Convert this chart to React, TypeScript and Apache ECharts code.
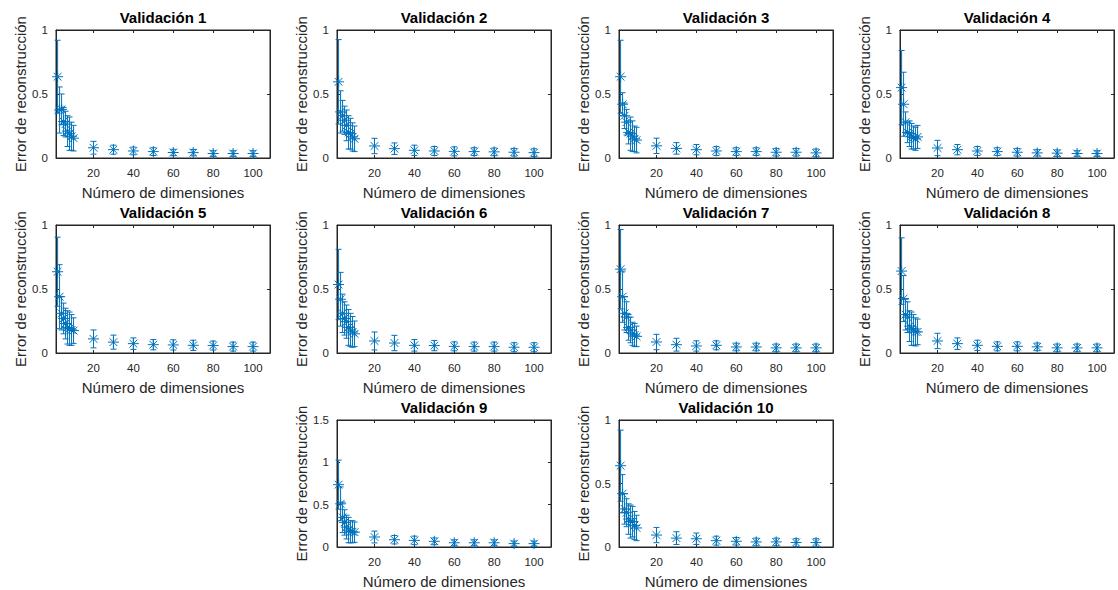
import React, { useEffect, useRef } from "react";
import * as echarts from "echarts";

const dims = [2, 3, 4, 5, 6, 7, 8, 9, 10, 20, 30, 40, 50, 60, 70, 80, 90, 100];
const xTicks = [20, 40, 60, 80, 100];
const titles = [
  "Validación 1", "Validación 2", "Validación 3", "Validación 4", "Validación 5",
  "Validación 6", "Validación 7", "Validación 8", "Validación 9", "Validación 10",
];
const yMax = [1, 1, 1, 1, 1, 1, 1, 1, 1.5, 1];

const val1Mean = [0.635, 0.375, 0.38, 0.285, 0.265, 0.21, 0.19, 0.17, 0.155, 0.08, 0.065, 0.055, 0.05, 0.043, 0.042, 0.035, 0.035, 0.035];
const val1Err = [0.285, 0.18, 0.12, 0.11, 0.1, 0.12, 0.13, 0.11, 0.1, 0.05, 0.035, 0.03, 0.03, 0.025, 0.025, 0.022, 0.022, 0.022];
const val2Mean = [0.595, 0.36, 0.33, 0.295, 0.255, 0.2, 0.19, 0.165, 0.15, 0.094, 0.073, 0.06, 0.055, 0.052, 0.05, 0.048, 0.045, 0.042];
const val2Err = [0.33, 0.165, 0.12, 0.11, 0.12, 0.13, 0.12, 0.11, 0.1, 0.06, 0.045, 0.04, 0.035, 0.035, 0.03, 0.03, 0.03, 0.03];
const val3Mean = [0.635, 0.42, 0.33, 0.28, 0.2, 0.19, 0.17, 0.15, 0.14, 0.095, 0.075, 0.065, 0.055, 0.05, 0.05, 0.045, 0.045, 0.04];
const val3Err = [0.285, 0.09, 0.1, 0.1, 0.09, 0.13, 0.12, 0.1, 0.1, 0.06, 0.045, 0.04, 0.035, 0.03, 0.03, 0.03, 0.03, 0.03];
const val4Mean = [0.55, 0.42, 0.28, 0.2, 0.19, 0.17, 0.16, 0.15, 0.165, 0.078, 0.065, 0.055, 0.05, 0.045, 0.04, 0.038, 0.035, 0.035];
const val4Err = [0.29, 0.25, 0.08, 0.08, 0.1, 0.1, 0.09, 0.09, 0.09, 0.06, 0.04, 0.035, 0.03, 0.03, 0.025, 0.025, 0.022, 0.022];
const val5Mean = [0.635, 0.44, 0.31, 0.27, 0.23, 0.2, 0.19, 0.18, 0.175, 0.11, 0.085, 0.073, 0.065, 0.063, 0.06, 0.058, 0.05, 0.05];
const val5Err = [0.27, 0.25, 0.13, 0.12, 0.12, 0.13, 0.13, 0.12, 0.1, 0.07, 0.055, 0.045, 0.04, 0.04, 0.04, 0.035, 0.035, 0.035];
const val6Mean = [0.535, 0.42, 0.31, 0.27, 0.245, 0.2, 0.18, 0.165, 0.15, 0.094, 0.078, 0.06, 0.058, 0.052, 0.05, 0.05, 0.045, 0.045];
const val6Err = [0.275, 0.21, 0.15, 0.13, 0.13, 0.14, 0.13, 0.12, 0.1, 0.07, 0.06, 0.045, 0.04, 0.035, 0.035, 0.035, 0.035, 0.035];
const val7Mean = [0.655, 0.44, 0.31, 0.28, 0.2, 0.18, 0.15, 0.14, 0.13, 0.086, 0.065, 0.055, 0.06, 0.047, 0.047, 0.04, 0.04, 0.04];
const val7Err = [0.31, 0.2, 0.13, 0.12, 0.1, 0.1, 0.09, 0.09, 0.08, 0.06, 0.05, 0.04, 0.035, 0.03, 0.03, 0.03, 0.03, 0.03];
const val8Mean = [0.64, 0.425, 0.3, 0.28, 0.21, 0.19, 0.18, 0.165, 0.165, 0.094, 0.073, 0.06, 0.052, 0.052, 0.048, 0.04, 0.04, 0.04];
const val8Err = [0.26, 0.18, 0.12, 0.12, 0.12, 0.13, 0.12, 0.11, 0.1, 0.06, 0.045, 0.04, 0.035, 0.035, 0.03, 0.03, 0.03, 0.03];
const val9Mean = [0.736, 0.51, 0.35, 0.29, 0.235, 0.2, 0.18, 0.18, 0.175, 0.118, 0.086, 0.078, 0.067, 0.05, 0.05, 0.05, 0.04, 0.04];
const val9Err = [0.29, 0.2, 0.18, 0.15, 0.14, 0.15, 0.13, 0.13, 0.12, 0.07, 0.05, 0.05, 0.04, 0.035, 0.035, 0.035, 0.03, 0.03];
const val10Mean = [0.64, 0.42, 0.3, 0.27, 0.22, 0.2, 0.2, 0.17, 0.15, 0.094, 0.07, 0.065, 0.05, 0.045, 0.04, 0.04, 0.035, 0.035];
const val10Err = [0.28, 0.15, 0.12, 0.11, 0.12, 0.13, 0.12, 0.11, 0.1, 0.06, 0.05, 0.045, 0.035, 0.03, 0.03, 0.03, 0.03, 0.03];

const means = [val1Mean, val2Mean, val3Mean, val4Mean, val5Mean, val6Mean, val7Mean, val8Mean, val9Mean, val10Mean];
const errs = [val1Err, val2Err, val3Err, val4Err, val5Err, val6Err, val7Err, val8Err, val9Err, val10Err];

// layout
const colLeft = [56, 337, 619, 900];
const rowTop = [30, 225, 420];
const boxW = 214;
const boxH = 128;
const placement = [
  [0, 0], [1, 0], [2, 0], [3, 0],
  [0, 1], [1, 1], [2, 1], [3, 1],
  [1, 2], [2, 2],
];

const FONT = "'Liberation Sans', Arial, Helvetica, sans-serif";
const AXIS_COLOR = "#262626";
const BLUE = "#0072BD";

function renderErr(params: any, api: any) {
  const x = api.value(0);
  const m = api.value(1);
  const e = api.value(2);
  const p = api.coord([x, m]);
  const hi = api.coord([x, m + e]);
  const lo = api.coord([x, m - e]);
  const cap = 3;
  const r = 5.5;
  const d = r * 0.7071;
  const style = { stroke: BLUE, lineWidth: 1, fill: "none" };
  const ln = (x1: number, y1: number, x2: number, y2: number) => ({
    type: "line",
    shape: { x1, y1, x2, y2 },
    style,
  });
  return {
    type: "group",
    children: [
      ln(hi[0], hi[1], lo[0], lo[1]),
      ln(hi[0] - cap, hi[1], hi[0] + cap, hi[1]),
      ln(lo[0] - cap, lo[1], lo[0] + cap, lo[1]),
      ln(p[0], p[1] - r, p[0], p[1] + r),
      ln(p[0] - r, p[1], p[0] + r, p[1]),
      ln(p[0] - d, p[1] - d, p[0] + d, p[1] + d),
      ln(p[0] - d, p[1] + d, p[0] + d, p[1] - d),
    ],
  };
}

export default function App() {
  const ref = useRef<HTMLDivElement>(null);
  useEffect(() => {
    document.body.style.margin = "0";
    if (!ref.current) return;
    const chart = echarts.init(ref.current, null, { renderer: "svg" });
    const grids: any[] = [];
    const xAxes: any[] = [];
    const yAxes: any[] = [];
    const series: any[] = [];
    const title: any[] = [];
    titles.forEach((t, i) => {
      const [c, r] = placement[i];
      const left = colLeft[c];
      const top = rowTop[r];
      grids.push({
        left, top, width: boxW, height: boxH, containLabel: false,
        show: true, borderColor: AXIS_COLOR, borderWidth: 1, backgroundColor: "transparent",
      });
      title.push({
        text: t,
        left: left + boxW / 2,
        top: top - 20,
        textAlign: "center",
        padding: 0,
        textStyle: { fontFamily: FONT, fontSize: 15, fontWeight: "bold", color: "#000" },
      });
      const axisLine = { show: true, onZero: false, lineStyle: { color: AXIS_COLOR, width: 1 } };
      xAxes.push({
        type: "value",
        gridIndex: i,
        position: "bottom",
        min: 1.2,
        max: 108.5,
        name: "Número de dimensiones",
        nameLocation: "middle",
        nameGap: 27,
        nameTextStyle: { fontFamily: FONT, fontSize: 15, color: AXIS_COLOR },
        axisLine,
        axisTick: { show: true, inside: true, length: 3, customValues: xTicks, lineStyle: { color: AXIS_COLOR } },
        axisLabel: { show: true, customValues: xTicks, margin: 9, fontFamily: FONT, fontSize: 11.5, color: AXIS_COLOR },
        splitLine: { show: false },
      });
      xAxes.push({
        type: "value",
        gridIndex: i,
        position: "top",
        min: 1.2,
        max: 108.5,
        axisLine,
        axisTick: { show: true, inside: true, length: 3, customValues: xTicks, lineStyle: { color: AXIS_COLOR } },
        axisLabel: { show: false },
        splitLine: { show: false },
      });
      yAxes.push({
        type: "value",
        gridIndex: i,
        position: "left",
        min: 0,
        max: yMax[i],
        interval: 0.5,
        name: "Error de reconstrucción",
        nameLocation: "middle",
        nameGap: 28.5,
        nameTextStyle: { fontFamily: FONT, fontSize: 15, color: AXIS_COLOR },
        axisLine,
        axisTick: { show: true, inside: true, length: 3, lineStyle: { color: AXIS_COLOR } },
        axisLabel: { show: true, margin: 8, fontFamily: FONT, fontSize: 11.5, color: AXIS_COLOR },
        splitLine: { show: false },
      });
      yAxes.push({
        type: "value",
        gridIndex: i,
        position: "right",
        min: 0,
        max: yMax[i],
        interval: 0.5,
        axisLine,
        axisTick: { show: true, inside: true, length: 3, lineStyle: { color: AXIS_COLOR } },
        axisLabel: { show: false },
        splitLine: { show: false },
      });
      series.push({
        type: "custom",
        name: t,
        xAxisIndex: i * 2,
        yAxisIndex: i * 2,
        renderItem: renderErr,
        encode: { x: 0, y: 1 },
        data: dims.map((d, k) => [d, means[i][k], errs[i][k]]),
        clip: false,
      });
    });
    chart.setOption({
      animation: false,
      backgroundColor: "#fff",
      title,
      grid: grids,
      xAxis: xAxes,
      yAxis: yAxes,
      series,
    });
    return () => chart.dispose();
  }, []);
  return <div ref={ref} style={{ width: 1118, height: 590 }} />;
}
